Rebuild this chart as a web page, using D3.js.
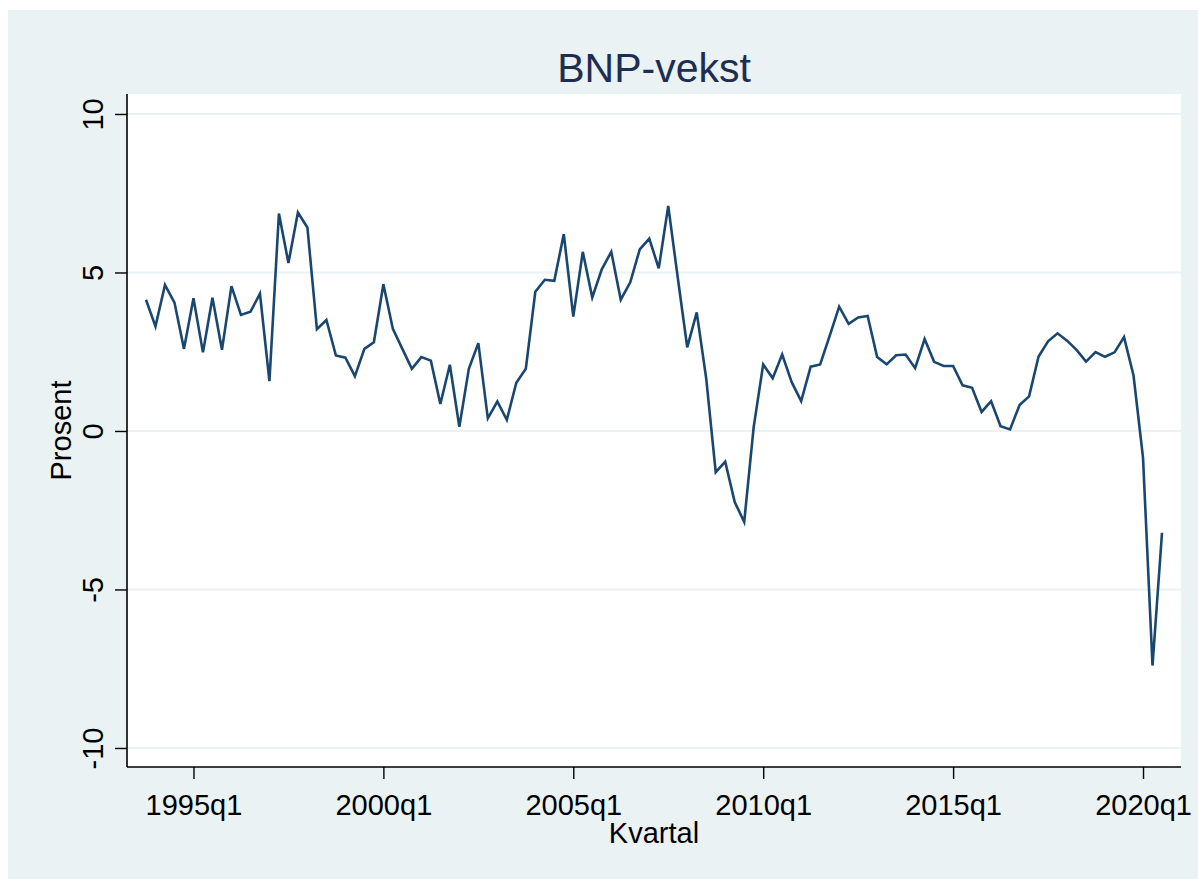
<!DOCTYPE html>
<html>
<head>
  <meta charset="utf-8">
  <title>BNP-vekst</title>
  <style>
    body { margin: 0; background: #ffffff; }
    text { font-family: Arial, "Liberation Sans", sans-serif; }
  </style>
</head>
<body>
  <script src="https://d3js.org/d3.v7.min.js"></script>
  <script>
  'use strict'

  const W = 1198
  const H = 879

  // first observation is 1993q4, one value per quarter
  const startYear = 1993
  const startQuarter = 4

  const growth = [
    4.14,
    3.30, 4.61, 4.05, 2.59,
    4.19, 2.48, 4.20, 2.56,
    4.57, 3.66, 3.76, 4.33,
    1.57, 6.86, 5.30, 6.89,
    6.42, 3.21, 3.50, 2.38,
    2.31, 1.73, 2.59, 2.80,
    4.63, 3.22, 2.59, 1.96,
    2.33, 2.22, 0.85, 2.09,
    0.13, 1.96, 2.77, 0.40,
    0.93, 0.35, 1.52, 1.96,
    4.39, 4.77, 4.74, 6.21,
    3.61, 5.65, 4.21, 5.10,
    5.65, 4.14, 4.69, 5.73,
    6.07, 5.13, 7.10, 4.84,
    2.64, 3.74, 1.65, -1.30,
    -0.97, -2.24, -2.87, 0.13,
    2.10, 1.66, 2.41, 1.54,
    0.94, 2.03, 2.10, 3.00,
    3.92, 3.38, 3.58, 3.63,
    2.33, 2.10, 2.39, 2.41,
    1.98, 2.90, 2.18, 2.05,
    2.05, 1.44, 1.36, 0.60,
    0.94, 0.15, 0.05, 0.82,
    1.09, 2.35, 2.83, 3.08,
    2.85, 2.56, 2.19, 2.49,
    2.34, 2.48, 2.96, 1.75,
    -0.84, -7.40, -3.21
  ]

  const xTickLabels = ["1995q1", "2000q1", "2005q1", "2010q1", "2015q1", "2020q1"]
  const yTicks = [-10, -5, 0, 5, 10]

  // quarter number counted from 1993q4 (like Stata's %tq)
  const qIndex = lab => {
    const y = +lab.slice(0, 4), q = +lab.slice(5)
    return (y - startYear) * 4 + (q - startQuarter)
  }

  const plot = { left: 127, right: 1181, top: 94, bottom: 767 }

  const x = d3.scaleLinear()
    .domain([-2, growth.length + 1])
    .range([plot.left, plot.right])

  const y = d3.scaleLinear()
    .domain([-10.6, 10.63])
    .range([plot.bottom, plot.top])

  const svg = d3.select("body")
    .append("svg")
    .attr("width", W)
    .attr("height", H)

  // outer background
  svg.append("rect")
    .attr("x", 8).attr("y", 10)
    .attr("width", W - 8).attr("height", H - 10)
    .attr("fill", "#eaf2f3")

  // plot area
  svg.append("rect")
    .attr("x", plot.left).attr("y", plot.top)
    .attr("width", plot.right - plot.left)
    .attr("height", plot.bottom - plot.top)
    .attr("fill", "#ffffff")

  // gridlines
  svg.append("g")
    .selectAll("line")
    .data(yTicks)
    .join("line")
    .attr("x1", plot.left).attr("x2", plot.right)
    .attr("y1", d => y(d)).attr("y2", d => y(d))
    .attr("stroke", "#eaf2f3")
    .attr("stroke-width", 2)

  // y axis (plain hyphen for negatives, as in Stata)
  const yAxis = svg.append("g")
    .attr("transform", `translate(${plot.left},0)`)
    .call(d3.axisLeft(y).tickValues(yTicks).tickSize(12).tickFormat(d => String(d)))
  yAxis.select(".domain")
    .attr("d", `M0,${plot.top}V${plot.bottom}`)
    .attr("stroke", "#000").attr("stroke-width", 1.6)
  yAxis.selectAll(".tick line").attr("stroke", "#000").attr("stroke-width", 1.4)
  yAxis.selectAll(".tick text")
    .attr("transform", "rotate(-90)")
    .attr("x", 0)
    .attr("y", -24)
    .attr("dy", 0)
    .attr("text-anchor", "middle")
    .attr("font-size", 29)
    .attr("font-family", "Arial, 'Liberation Sans', sans-serif")
    .attr("fill", "#000")

  // x axis
  const xAxis = svg.append("g")
    .attr("transform", `translate(0,${plot.bottom})`)
    .call(d3.axisBottom(x)
      .tickValues(xTickLabels.map(qIndex))
      .tickSize(12)
      .tickFormat((d, i) => xTickLabels[i]))
  xAxis.select(".domain")
    .attr("d", `M${plot.left},0H${plot.right}`)
    .attr("stroke", "#000").attr("stroke-width", 1.6)
  xAxis.selectAll(".tick line").attr("stroke", "#000").attr("stroke-width", 1.4)
  xAxis.selectAll(".tick text")
    .attr("y", 48)
    .attr("dy", 0)
    .attr("font-size", 29)
    .attr("font-family", "Arial, 'Liberation Sans', sans-serif")
    .attr("fill", "#000")

  // series line
  const line = d3.line()
    .x((d, i) => x(i))
    .y(d => y(d))

  svg.append("path")
    .datum(growth)
    .attr("d", line)
    .attr("fill", "none")
    .attr("stroke", "#1a476f")
    .attr("stroke-width", 2.6)
    .attr("stroke-linejoin", "miter")

  // title and axis titles
  svg.append("text")
    .attr("x", (plot.left + plot.right) / 2)
    .attr("y", 82)
    .attr("text-anchor", "middle")
    .attr("font-size", 41)
    .attr("fill", "#1e2d52")
    .text("BNP-vekst")

  svg.append("text")
    .attr("x", (plot.left + plot.right) / 2)
    .attr("y", 843)
    .attr("text-anchor", "middle")
    .attr("font-size", 29)
    .attr("fill", "#000")
    .text("Kvartal")

  svg.append("text")
    .attr("transform", `translate(71,${(plot.top + plot.bottom) / 2}) rotate(-90)`)
    .attr("text-anchor", "middle")
    .attr("font-size", 29)
    .attr("fill", "#000")
    .text("Prosent")
  </script>
</body>
</html>
